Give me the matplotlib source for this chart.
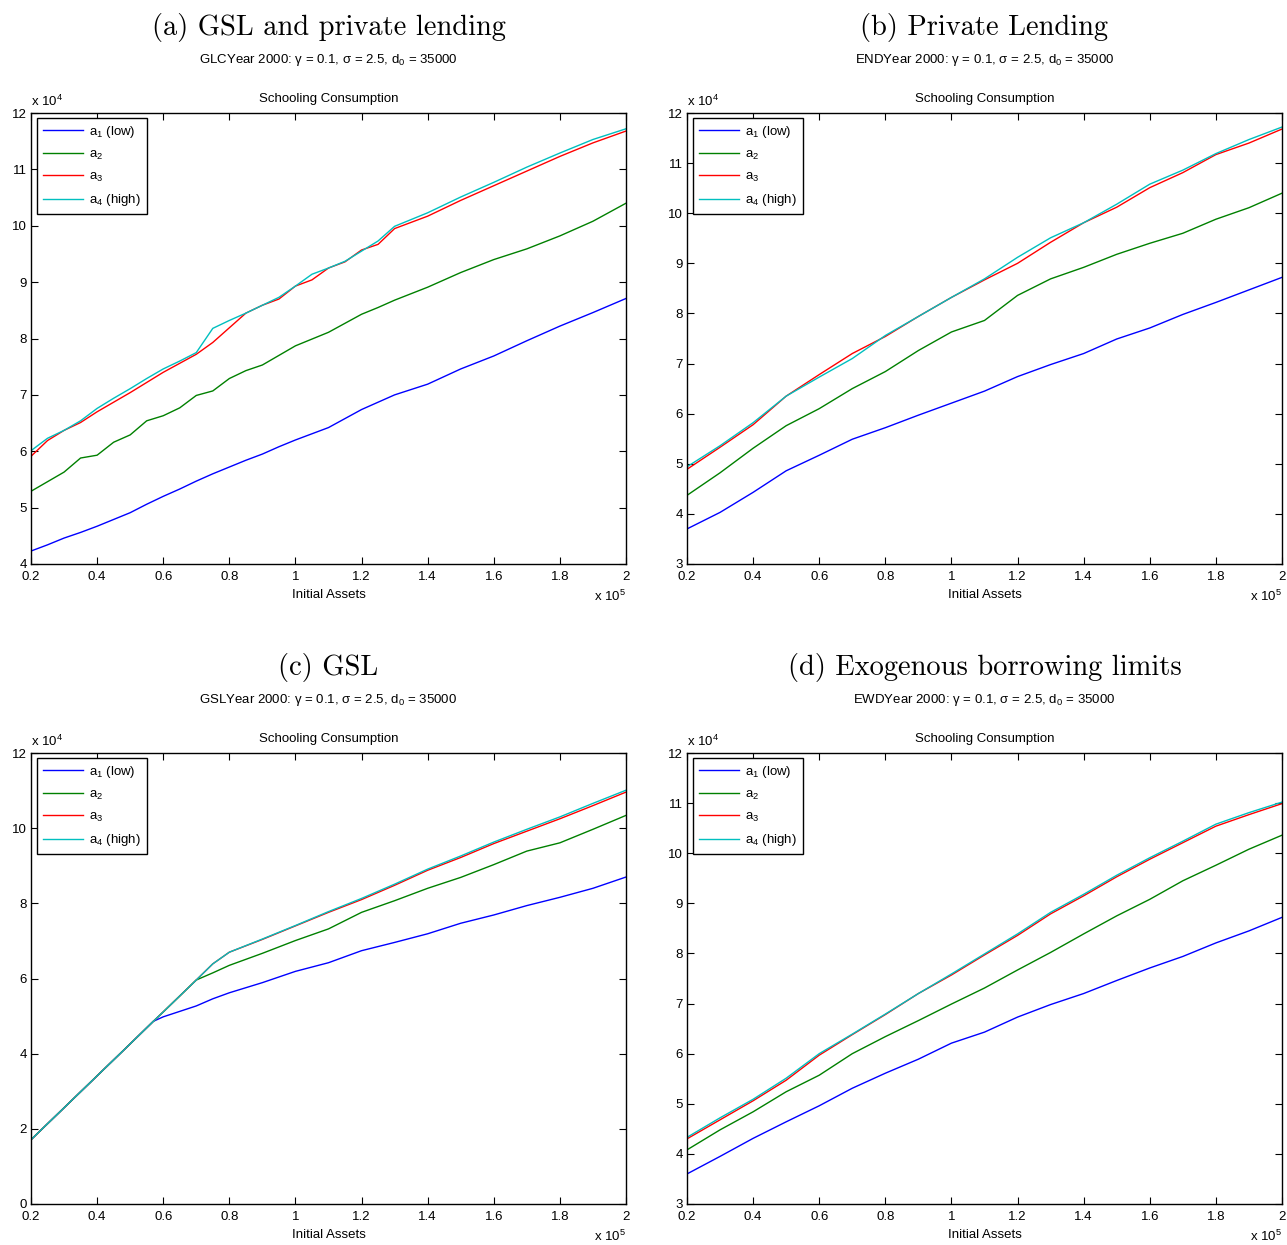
import numpy as np
import matplotlib
matplotlib.use('Agg')
from matplotlib import pyplot as plt

plt.rcParams['font.family'] = ['Liberation Sans', 'DejaVu Sans']
plt.rcParams['mathtext.default'] = 'regular'

# x in units of 1e5 (initial assets), y in units of 1e4 (schooling consumption)
x_std = [0.2, 0.3, 0.4, 0.5, 0.6, 0.7, 0.8, 0.9, 1.0, 1.1,
         1.2, 1.3, 1.4, 1.5, 1.6, 1.7, 1.8, 1.9, 2.0]

# (a) GSL and private lending
x_glc = [0.2, 0.25, 0.3, 0.35, 0.4, 0.45, 0.5, 0.55, 0.6, 0.65, 0.7, 0.75, 0.8, 0.85, 0.9, 0.95,
         1.0, 1.05, 1.1, 1.15, 1.2, 1.25, 1.3, 1.4, 1.5, 1.6, 1.7, 1.8, 1.9, 2.0]
glc_a1 = [4.23, 4.34, 4.46, 4.56, 4.67, 4.79, 4.91, 5.06, 5.20, 5.33, 5.47, 5.60, 5.72, 5.84, 5.95, 6.08,
          6.20, 6.31, 6.42, 6.58, 6.74, 6.87, 7.00, 7.19, 7.46, 7.69, 7.96, 8.22, 8.46, 8.71]
glc_a2 = [5.29, 5.46, 5.63, 5.88, 5.93, 6.16, 6.29, 6.54, 6.63, 6.77, 6.99, 7.07, 7.29, 7.43, 7.53, 7.70,
          7.87, 7.99, 8.11, 8.27, 8.43, 8.55, 8.68, 8.91, 9.17, 9.40, 9.59, 9.82, 10.08, 10.40]
glc_a3 = [5.91, 6.19, 6.37, 6.51, 6.70, 6.87, 7.04, 7.22, 7.40, 7.56, 7.72, 7.93, 8.19, 8.45, 8.59, 8.70,
          8.93, 9.04, 9.25, 9.36, 9.57, 9.67, 9.95, 10.17, 10.45, 10.71, 10.97, 11.23, 11.47, 11.68]
glc_a4 = [6.01, 6.23, 6.37, 6.54, 6.76, 6.94, 7.11, 7.29, 7.46, 7.60, 7.75, 8.18, 8.32, 8.45, 8.59, 8.73,
          8.93, 9.14, 9.25, 9.37, 9.55, 9.73, 9.99, 10.23, 10.51, 10.77, 11.04, 11.29, 11.53, 11.72]

# (b) Private lending
end_a1 = [3.70, 4.03, 4.43, 4.86, 5.17, 5.49, 5.72, 5.97, 6.21, 6.45,
          6.74, 6.98, 7.20, 7.49, 7.71, 7.98, 8.22, 8.47, 8.72]
end_a2 = [4.37, 4.82, 5.31, 5.76, 6.10, 6.50, 6.84, 7.26, 7.63, 7.86,
          8.36, 8.69, 8.92, 9.18, 9.40, 9.60, 9.88, 10.11, 10.40]
end_a3 = [4.89, 5.33, 5.78, 6.35, 6.78, 7.20, 7.54, 7.94, 8.32, 8.67,
          9.00, 9.42, 9.81, 10.12, 10.51, 10.81, 11.17, 11.40, 11.68]
end_a4 = [4.94, 5.36, 5.82, 6.35, 6.73, 7.10, 7.56, 7.94, 8.32, 8.69,
          9.12, 9.51, 9.81, 10.18, 10.58, 10.86, 11.19, 11.47, 11.72]

# (c) GSL
x_gsl = [0.2, 0.3, 0.4, 0.5, 0.57, 0.6, 0.7, 0.75, 0.8, 0.9, 1.0,
         1.1, 1.2, 1.3, 1.4, 1.5, 1.6, 1.7, 1.8, 1.9, 2.0]
gsl_a1 = [1.71, 2.56, 3.41, 4.26, 4.86, 4.98, 5.27, 5.46, 5.62, 5.89, 6.19,
          6.42, 6.74, 6.96, 7.19, 7.47, 7.69, 7.94, 8.16, 8.40, 8.70]
gsl_a2 = [1.71, 2.56, 3.41, 4.26, 4.86, 5.11, 5.96, 6.15, 6.35, 6.67, 7.01,
          7.32, 7.76, 8.07, 8.40, 8.69, 9.03, 9.39, 9.61, 9.97, 10.34]
gsl_a3 = [1.71, 2.56, 3.41, 4.26, 4.86, 5.11, 5.96, 6.39, 6.70, 7.04, 7.40,
          7.76, 8.10, 8.48, 8.88, 9.22, 9.59, 9.92, 10.25, 10.60, 10.96]
gsl_a4 = [1.71, 2.56, 3.41, 4.26, 4.86, 5.11, 5.96, 6.39, 6.70, 7.05, 7.41,
          7.78, 8.13, 8.51, 8.91, 9.26, 9.63, 9.97, 10.30, 10.66, 11.01]

# (d) Exogenous borrowing limits
ewd_a1 = [3.60, 3.95, 4.31, 4.64, 4.96, 5.31, 5.61, 5.89, 6.21, 6.43,
          6.73, 6.98, 7.20, 7.46, 7.71, 7.94, 8.21, 8.45, 8.72]
ewd_a2 = [4.08, 4.48, 4.84, 5.24, 5.57, 6.00, 6.34, 6.66, 6.99, 7.31,
          7.67, 8.02, 8.39, 8.75, 9.08, 9.45, 9.76, 10.08, 10.36]
ewd_a3 = [4.30, 4.68, 5.06, 5.47, 5.97, 6.38, 6.78, 7.20, 7.57, 7.97,
          8.36, 8.79, 9.15, 9.53, 9.88, 10.21, 10.54, 10.77, 10.99]
ewd_a4 = [4.33, 4.72, 5.09, 5.51, 6.00, 6.39, 6.79, 7.20, 7.59, 7.99,
          8.39, 8.82, 9.18, 9.56, 9.91, 10.24, 10.58, 10.81, 11.02]

labels = ['a$_1$ (low)', 'a$_2$', 'a$_3$', 'a$_4$ (high)']
colors = ['#0000ff', '#008000', '#ff0000', '#00bfbf']

panel_titles = ['(a) GSL and private lending', '(b) Private Lending', '(c) GSL',
                '(d) Exogenous borrowing limits']
codes = ['GLC', 'END', 'GSL', 'EWD']
x_ticks = [0.2, 0.4, 0.6, 0.8, 1.0, 1.2, 1.4, 1.6, 1.8, 2.0]
x_ticklabels = ['0.2', '0.4', '0.6', '0.8', '1', '1.2', '1.4', '1.6', '1.8', '2']

W, H = 1287, 1245
fig = plt.figure(figsize=(W / 100, H / 100), dpi=100)


def add_panel(left_px, top_px, x, series, ylim, yticks, title, code):
    w_px, h_px = 595, 451
    ax = fig.add_axes([left_px / W, 1 - (top_px + h_px) / H, w_px / W, h_px / H])
    for y, lab, c in zip(series, labels, colors):
        ax.plot(x, y, color=c, lw=1.0, label=lab)
    ax.set_xlim(0.2, 2.0)
    ax.set_ylim(*ylim)
    ax.set_xticks(x_ticks)
    ax.set_xticklabels(x_ticklabels)
    ax.set_yticks(yticks)
    ax.set_yticklabels([str(v) for v in yticks])
    ax.tick_params(direction='in', top=True, right=True, length=5, width=0.8,
                   labelsize=9.5)
    ax.tick_params(axis='x', pad=5)
    ax.tick_params(axis='y', pad=3)
    for s in ax.spines.values():
        s.set_linewidth(1.0)
    ax.set_title('Schooling Consumption', fontsize=9.5, pad=8)
    ax.set_xlabel('Initial Assets', fontsize=9.5, labelpad=4)
    ax.text(0.0, 1.008, r'x 10$^4$', transform=ax.transAxes, fontsize=9.5,
            ha='left', va='bottom')
    ax.text(1.0, -32 / h_px, r'x 10$^5$', transform=ax.transAxes, fontsize=9.5,
            ha='right', va='center')
    leg = ax.legend(loc='upper left', bbox_to_anchor=(6 / w_px, 1 - 5 / h_px),
                    borderaxespad=0, fontsize=9.5, handlelength=3.0, handletextpad=0.5,
                    labelspacing=0.65, fancybox=False, framealpha=1,
                    edgecolor='black', borderpad=0.45)
    leg.get_frame().set_linewidth(1.0)
    cx = (left_px + w_px / 2) / W
    fig.text(cx, 1 - (top_px - 86) / H, title, family='cmr10', fontsize=20.5,
             ha='center', va='center')
    fig.text(cx, 1 - (top_px - 53) / H,
             code + 'Year 2000: \u03b3 = 0.1, \u03c3 = 2.5, d$_0$ = 35000',
             fontsize=9.5, ha='center', va='center')
    return ax


add_panel(31, 113, x_glc, [glc_a1, glc_a2, glc_a3, glc_a4], (4, 12), list(range(4, 13)),
          panel_titles[0], codes[0])
add_panel(687, 113, x_std, [end_a1, end_a2, end_a3, end_a4], (3, 12), list(range(3, 13)),
          panel_titles[1], codes[1])
add_panel(31, 753, x_gsl, [gsl_a1, gsl_a2, gsl_a3, gsl_a4], (0, 12), list(range(0, 13, 2)),
          panel_titles[2], codes[2])
add_panel(687, 753, x_std, [ewd_a1, ewd_a2, ewd_a3, ewd_a4], (3, 12), list(range(3, 13)),
          panel_titles[3], codes[3])

fig.savefig('out.png', dpi=100)
